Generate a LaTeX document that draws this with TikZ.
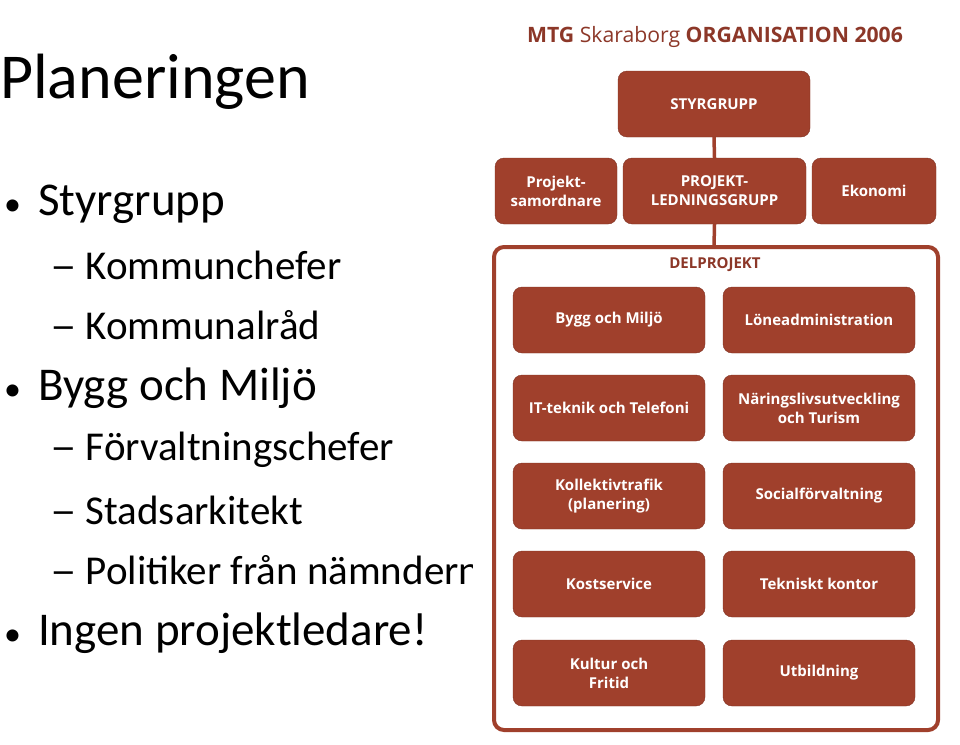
\documentclass[tikz,border=0pt]{standalone}
\usepackage{fontspec}
\setmainfont{Carlito}
\newfontfamily\dfont{Open Sans}
\definecolor{brn}{RGB}{160,64,44}
\definecolor{ttl}{RGB}{140,55,40}
\begin{document}
\begin{tikzpicture}[x=1pt,y=-1pt,
  bx/.style={fill=brn,draw=brn!80!black,rounded corners=9pt,text=white,font=\dfont\bfseries\fontsize{15}{19}\selectfont,align=center,inner sep=0pt},
  lnk/.style={draw=brn,line width=3.5pt},
  l1/.style={anchor=west,font=\fontsize{47}{50}\selectfont,inner sep=0pt},
  l2/.style={anchor=west,font=\fontsize{41}{44}\selectfont,inner sep=0pt}]
\useasboundingbox (0,0) rectangle (960,744);
\node[anchor=west,inner sep=0pt,font=\fontsize{64}{68}\selectfont] (t) at (0,82) {Planeringen};
\node[l1] (b1) at (4,204) {{\fontsize{34}{34}\selectfont•}\hspace{17pt}Styrgrupp};
\node[l2] (b2) at (50,265) {\scalebox{1.3}[1]{–}\hspace{9pt}Kommunchefer};
\node[l2] (b3) at (50,325) {\scalebox{1.3}[1]{–}\hspace{9pt}Kommunalråd};
\node[l1] (b4) at (4,388) {{\fontsize{34}{34}\selectfont•}\hspace{17pt}Bygg och Miljö};
\node[l2] (b5) at (50,450) {\scalebox{1.3}[1]{–}\hspace{9pt}Förvaltningschefer};
\node[l2] (b6) at (50,510) {\scalebox{1.3}[1]{–}\hspace{9pt}Stadsarkitekt};
\begin{scope}
\clip (0,540) rectangle (472,600);
\node[l2] (b7) at (50,570) {\scalebox{1.3}[1]{–}\hspace{9pt}Politiker från nämnderna};
\end{scope}
\node[l1] (b8) at (4,633) {{\fontsize{34}{34}\selectfont•}\hspace{17pt}Ingen projektledare!};
% diagram
\node[text=ttl,font=\dfont\fontsize{21.2}{25}\selectfont,inner sep=0pt] (title) at (715,37) {\textbf{MTG} Skaraborg \textbf{ORGANISATION 2006}};
\draw[brn,line width=4pt,rounded corners=10pt] (494,247) rectangle (938,730);
\node[font=\dfont\bfseries\fontsize{15}{18}\selectfont,text=ttl] (dp) at (715,265) {DELPROJEKT};
\coordinate (dtop) at (714,247);
\node[bx,minimum width=192pt,minimum height=66pt] (sg) at (714,104) {STYRGRUPP};
\node[bx,minimum width=122pt,minimum height=66pt] (ps) at (556,191) {Projekt-\\samordnare};
\node[bx,minimum width=183pt,minimum height=66pt] (pl) at (714.5,191) {PROJEKT-\\LEDNINGSGRUPP};
\node[bx,minimum width=124pt,minimum height=66pt] (ek) at (874,191) {Ekonomi};
\draw[lnk] (sg.south) -- (pl.north);
\draw[lnk] (pl.south) -- (dtop);
\foreach \n/\y/\a/\b in {1/320/Bygg och Miljö/Löneadministration,
  2/408/IT-teknik och Telefoni/Näringslivsutveckling\\och Turism,
  3/496/Kollektivtrafik\\(planering)/Socialförvaltning,
  4/584/Kostservice/Tekniskt kontor,
  5/673/Kultur och\\Fritid/Utbildning}{
  \node[bx,minimum width=192pt,minimum height=66pt] (L\n) at (609,\y) {\a};
  \node[bx,minimum width=192pt,minimum height=66pt] (R\n) at (819,\y) {\b};
}
\end{tikzpicture}
\end{document}
